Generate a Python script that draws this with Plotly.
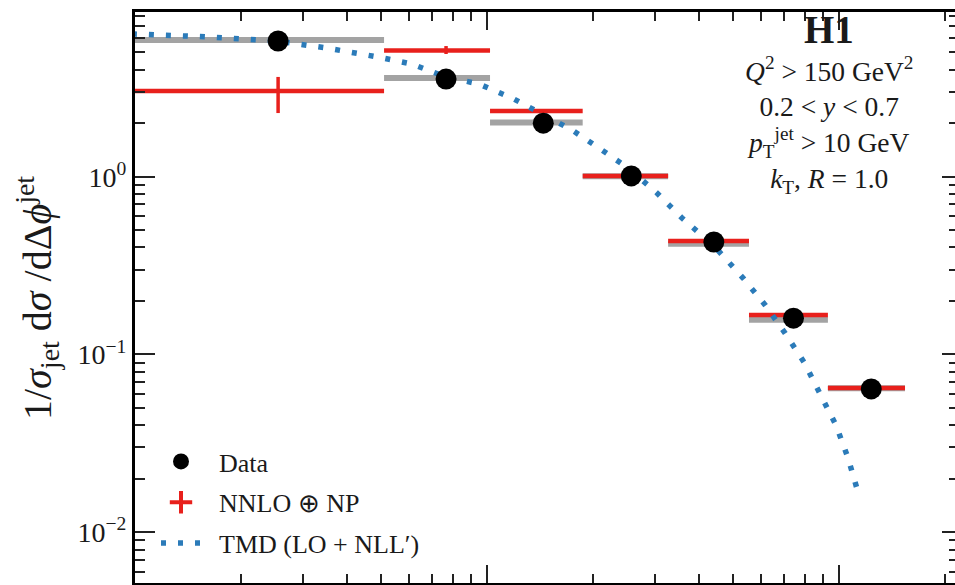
import plotly.graph_objects as go

# ---------------- data ----------------
bin_edges = [0.0, 0.051, 0.102, 0.187, 0.327, 0.555, 0.93, 1.54]
data_vals = [5.80, 3.54, 2.00, 1.01, 0.429, 0.160, 0.064]
gray_vals = [5.87, 3.59, 2.02, 1.005, 0.420, 0.157, 0.0646]
nnlo_vals = [3.03, 5.13, 2.34, 1.01, 0.435, 0.167, 0.0648]
nnlo_err_up = [0.61, 0.30, 0.05, 0.02, 0.008, 0.003, 0.001]
nnlo_err_dn = [0.75, 0.23, 0.05, 0.02, 0.008, 0.003, 0.001]
tmd_x = [0.0098, 0.0153, 0.0253, 0.0351, 0.0490, 0.0612, 0.0765, 0.0949,
         0.1178, 0.1443, 0.1744, 0.2122, 0.2515, 0.304, 0.358, 0.4416,
         0.534, 0.6166, 0.7026, 0.7955, 0.889, 0.9806, 1.0607, 1.132]
tmd_y = [6.35, 6.14, 5.80, 5.29, 4.71, 4.30, 3.64, 3.32,
         2.77, 2.25, 1.83, 1.41, 1.12, 0.810, 0.586, 0.4076,
         0.269, 0.190, 0.132, 0.0905, 0.0598, 0.0400, 0.0262, 0.01685]
y_tick_vals = [0.01, 0.1, 1.0]
y_tick_text = ["10<sup>\u22122</sup>", "10<sup>\u22121</sup>", "10<sup>0</sup>"]
x_major_ticks = [0.01, 0.1, 1.0]
info_lines = [
    "<i>Q</i><sup>2</sup> > 150 GeV<sup>2</sup>",
    "0.2 < <i>y</i> < 0.7",
    "<i>p</i><sub>T</sub><sup>jet</sup> > 10 GeV",
    "<i>k</i><sub>T</sub>, <i>R</i> = 1.0",
]
legend_names = ["Data", "NNLO \u2295 NP", "TMD (LO + NLL\u2032)"]

# ---------------- layout geometry ----------------
W, H = 955, 585
L, R, T, B = 135, 0, 12, 2
PW, PH = W - L - R, H - T - B
X_RANGE = [-2.0, -2.0 + PW / 352.0]
Y_RANGE = [-2.2852, 0.9263]
FONT = "Liberation Serif"
TXT = "#1a1a1a"
RED = "#e8201c"
GRAY = "#a3a3a3"
BLUE = "#2b7bb9"
PAD = "\u00a0\u00a0"  # extra gap between legend symbol and label


def px_x(px):
    return (px - L) / PW


def px_y(py):
    return (H - B - py) / PH


x_lo_clip = 10 ** X_RANGE[0]
lows = [max(e, x_lo_clip) for e in bin_edges[:-1]]
highs = bin_edges[1:]
centers = [(a + b) / 2 for a, b in zip(bin_edges[:-1], bin_edges[1:])]
err_plus = [h - c for h, c in zip(highs, centers)]
err_minus = [c - l for c, l in zip(centers, lows)]

minor_x = [m * d for d in [0.001, 0.01, 0.1, 1.0] for m in range(2, 10)]
minor_y = [m * d for d in [0.001, 0.01, 0.1, 1.0] for m in range(2, 10)]

fig = go.Figure()

# gray bands
fig.add_trace(go.Scatter(
    x=centers, y=gray_vals, mode="markers", marker=dict(size=0.1, color=GRAY, opacity=0),
    error_x=dict(type="data", symmetric=False, array=err_plus, arrayminus=err_minus,
                 color=GRAY, thickness=6, width=0),
    showlegend=False, hoverinfo="skip"))

# NNLO + NP
fig.add_trace(go.Scatter(
    x=centers, y=nnlo_vals, mode="markers", marker=dict(size=0.1, color=RED, opacity=0),
    error_x=dict(type="data", symmetric=False, array=err_plus, arrayminus=err_minus,
                 color=RED, thickness=4.5, width=0),
    error_y=dict(type="data", symmetric=False, array=nnlo_err_up, arrayminus=nnlo_err_dn,
                 color=RED, thickness=3.5, width=0),
    showlegend=False, hoverinfo="skip"))

# TMD curve
fig.add_trace(go.Scatter(
    x=tmd_x, y=tmd_y, mode="lines", line=dict(color=BLUE, width=5.5, dash="5px,12px"),
    name=PAD + legend_names[2], legendgroup="c", legendrank=3))

# Data
fig.add_trace(go.Scatter(
    x=centers, y=data_vals, mode="markers", marker=dict(size=21, color="black"),
    name=PAD + legend_names[0], legendgroup="a", legendrank=1))

# legend proxy for NNLO
fig.add_trace(go.Scatter(
    x=[None], y=[None], mode="markers",
    marker=dict(symbol="cross-thin", size=16, color=RED, line=dict(color=RED, width=4)),
    name=PAD + legend_names[1], legendgroup="b", legendrank=2))

# right-hand axis ticks holder
fig.add_trace(go.Scatter(x=[None], y=[None], yaxis="y2", showlegend=False, hoverinfo="skip"))

fig.update_layout(
    width=W, height=H,
    margin=dict(l=L, r=R, t=T, b=B),
    paper_bgcolor="white", plot_bgcolor="white",
    font=dict(family=FONT, color=TXT, size=24),
    showlegend=True,
    legend=dict(x=px_x(156), y=px_y(438), xanchor="left", yanchor="top",
                bgcolor="rgba(0,0,0,0)", font=dict(family=FONT, size=26, color=TXT),
                tracegroupgap=4, traceorder="grouped", itemwidth=40),
    xaxis=dict(type="log", range=X_RANGE, showgrid=False, zeroline=False,
               showline=True, linecolor="black", linewidth=3, mirror="ticks",
               ticks="inside", ticklen=18, tickwidth=2, tickcolor="#222",
               tickvals=x_major_ticks, showticklabels=False,
               minor=dict(tickvals=minor_x, ticks="inside", ticklen=9, tickwidth=1.5,
                          tickcolor="#222", showgrid=False)),
    yaxis=dict(type="log", range=Y_RANGE, showgrid=False, zeroline=False,
               showline=True, linecolor="black", linewidth=3, mirror=False,
               ticks="inside", ticklen=20, tickwidth=2, tickcolor="#222",
               tickvals=y_tick_vals, ticktext=y_tick_text,
               tickfont=dict(family=FONT, size=28, color=TXT),
               minor=dict(tickvals=minor_y, ticks="inside", ticklen=10, tickwidth=1.5,
                          tickcolor="#222", showgrid=False)),
    yaxis2=dict(type="log", range=Y_RANGE, overlaying="y", side="right", anchor="x",
                showgrid=False, zeroline=False, showline=False,
                ticks="inside", ticklen=13, tickwidth=2, tickcolor="#222",
                tickvals=y_tick_vals, showticklabels=False,
                minor=dict(tickvals=minor_y, ticks="inside", ticklen=6, tickwidth=1.5,
                           tickcolor="#222", showgrid=False)),
)

fig.add_annotation(text="<b>H1</b>", x=px_x(829), y=px_y(30), xref="paper", yref="paper",
                   xanchor="center", yanchor="middle", showarrow=False,
                   font=dict(family=FONT, size=39, color=TXT))
fig.add_annotation(text="<br>".join(info_lines), x=px_x(829), y=px_y(125),
                   xref="paper", yref="paper", xanchor="center", yanchor="middle",
                   align="center", showarrow=False,
                   font=dict(family=FONT, size=27.5, color=TXT))

fig.add_annotation(
    text="1/<i>\u03c3</i><sub>jet</sub> d<i>\u03c3</i> /d\u0394<i>\u03d5</i><sup>jet</sup>",
    x=px_x(37), y=px_y(298), xref="paper", yref="paper", xanchor="center", yanchor="middle",
    textangle=-90, showarrow=False, font=dict(family=FONT, size=40, color=TXT))

fig.write_html("out.html")
